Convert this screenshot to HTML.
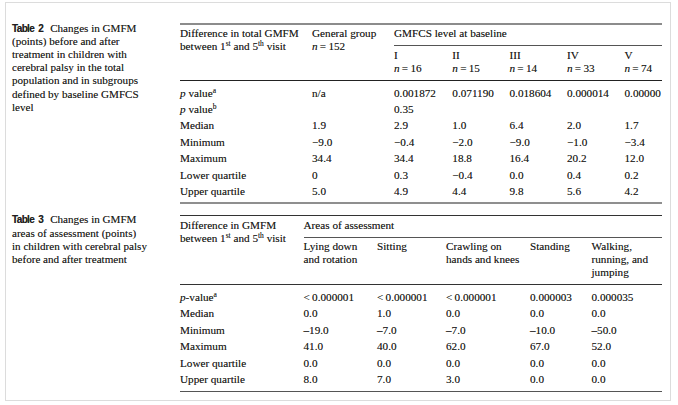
<!DOCTYPE html>
<html><head><meta charset="utf-8"><style>
html,body{margin:0;padding:0;background:#fff;}
body{width:678px;height:405px;position:relative;overflow:hidden;}
.frame{position:absolute;left:5px;top:2px;width:664px;height:397px;border:1px solid #dcdcdc;}
.s,.c{position:absolute;white-space:nowrap;font-family:"Liberation Serif",serif;font-size:11.2px;line-height:13px;color:#231f20;text-shadow:0 0 0.5px rgba(35,31,32,0.55);}
.c{font-size:11.1px;}
.tl{font-family:"Liberation Sans",sans-serif;font-weight:bold;font-size:10px;letter-spacing:-0.65px;word-spacing:2px;}
sup{font-size:7.5px;line-height:0;vertical-align:3.8px;}
.r{position:absolute;}
.clip{position:absolute;left:0;top:0;width:662px;height:405px;overflow:hidden;}
</style></head><body>
<div class="frame"></div>
<div class="clip">

<div class="r" style="left:180px;top:23px;width:482px;height:2px;background:#8c8c8c"></div>
<div class="r" style="left:394px;top:45px;width:268px;height:1px;background:#555"></div>
<div class="r" style="left:180px;top:79.5px;width:482px;height:1.6px;background:#222"></div>
<div class="r" style="left:180px;top:202px;width:482px;height:2px;background:#8f8f8f"></div>
<div class="r" style="left:180px;top:215px;width:482px;height:1px;background:#333"></div>
<div class="r" style="left:304px;top:237px;width:358px;height:1px;background:#555"></div>
<div class="r" style="left:180px;top:283.5px;width:482px;height:1.6px;background:#333"></div>
<div class="r" style="left:180px;top:390.5px;width:482px;height:1.6px;background:#555"></div>
<div class="c" style="left:12px;top:21.6px"><b class=tl>Table&nbsp;2</b><span style="display:inline-block;width:7px"></span>Changes in GMFM</div>
<div class="c" style="left:12px;top:34.8px">(points) before and after</div>
<div class="c" style="left:12px;top:48px">treatment in children with</div>
<div class="c" style="left:12px;top:61.2px">cerebral palsy in the total</div>
<div class="c" style="left:12px;top:74.4px">population and in subgroups</div>
<div class="c" style="left:12px;top:87.6px">defined by baseline GMFCS</div>
<div class="c" style="left:12px;top:100.8px">level</div>
<div class="c" style="left:12px;top:213.4px"><b class=tl>Table&nbsp;3</b><span style="display:inline-block;width:7px"></span>Changes in GMFM</div>
<div class="c" style="left:12px;top:226.6px">areas of assessment (points)</div>
<div class="c" style="left:12px;top:239.8px">in children with cerebral palsy</div>
<div class="c" style="left:12px;top:253px">before and after treatment</div>
<div class="s" style="left:180px;top:27px">Difference in total GMFM</div>
<div class="s" style="left:180px;top:40px">between 1<sup>st</sup> and 5<sup>th</sup> visit</div>
<div class="s" style="left:312px;top:27px">General group</div>
<div class="s" style="left:312px;top:40px"><i>n</i>&#8201;=&#8201;152</div>
<div class="s" style="left:394px;top:27px">GMFCS level at baseline</div>
<div class="s" style="left:394px;top:48.5px">I</div>
<div class="s" style="left:394px;top:62px"><i>n</i>&#8201;=&#8201;16</div>
<div class="s" style="left:452.3px;top:48.5px">II</div>
<div class="s" style="left:452.3px;top:62px"><i>n</i>&#8201;=&#8201;15</div>
<div class="s" style="left:509.5px;top:48.5px">III</div>
<div class="s" style="left:509.5px;top:62px"><i>n</i>&#8201;=&#8201;14</div>
<div class="s" style="left:567px;top:48.5px">IV</div>
<div class="s" style="left:567px;top:62px"><i>n</i>&#8201;=&#8201;33</div>
<div class="s" style="left:624.5px;top:48.5px">V</div>
<div class="s" style="left:624.5px;top:62px"><i>n</i>&#8201;=&#8201;74</div>
<div class="s" style="left:180px;top:86.5px"><i>p</i> value<sup>a</sup></div>
<div class="s" style="left:312px;top:86.5px">n/a</div>
<div class="s" style="left:394px;top:86.5px">0.001872</div>
<div class="s" style="left:452.3px;top:86.5px">0.071190</div>
<div class="s" style="left:509.5px;top:86.5px">0.018604</div>
<div class="s" style="left:567px;top:86.5px">0.000014</div>
<div class="s" style="left:624.5px;top:86.5px">0.00000</div>
<div class="s" style="left:180px;top:102.9px"><i>p</i> value<sup>b</sup></div>
<div class="s" style="left:394px;top:102.9px">0.35</div>
<div class="s" style="left:180px;top:119.3px">Median</div>
<div class="s" style="left:312px;top:119.3px">1.9</div>
<div class="s" style="left:394px;top:119.3px">2.9</div>
<div class="s" style="left:452.3px;top:119.3px">1.0</div>
<div class="s" style="left:509.5px;top:119.3px">6.4</div>
<div class="s" style="left:567px;top:119.3px">2.0</div>
<div class="s" style="left:624.5px;top:119.3px">1.7</div>
<div class="s" style="left:180px;top:135.7px">Minimum</div>
<div class="s" style="left:312px;top:135.7px">&minus;9.0</div>
<div class="s" style="left:394px;top:135.7px">&minus;0.4</div>
<div class="s" style="left:452.3px;top:135.7px">&minus;2.0</div>
<div class="s" style="left:509.5px;top:135.7px">&minus;9.0</div>
<div class="s" style="left:567px;top:135.7px">&minus;1.0</div>
<div class="s" style="left:624.5px;top:135.7px">&minus;3.4</div>
<div class="s" style="left:180px;top:152.1px">Maximum</div>
<div class="s" style="left:312px;top:152.1px">34.4</div>
<div class="s" style="left:394px;top:152.1px">34.4</div>
<div class="s" style="left:452.3px;top:152.1px">18.8</div>
<div class="s" style="left:509.5px;top:152.1px">16.4</div>
<div class="s" style="left:567px;top:152.1px">20.2</div>
<div class="s" style="left:624.5px;top:152.1px">12.0</div>
<div class="s" style="left:180px;top:168.5px">Lower quartile</div>
<div class="s" style="left:312px;top:168.5px">0</div>
<div class="s" style="left:394px;top:168.5px">0.3</div>
<div class="s" style="left:452.3px;top:168.5px">&minus;0.4</div>
<div class="s" style="left:509.5px;top:168.5px">0.0</div>
<div class="s" style="left:567px;top:168.5px">0.4</div>
<div class="s" style="left:624.5px;top:168.5px">0.2</div>
<div class="s" style="left:180px;top:184.9px">Upper quartile</div>
<div class="s" style="left:312px;top:184.9px">5.0</div>
<div class="s" style="left:394px;top:184.9px">4.9</div>
<div class="s" style="left:452.3px;top:184.9px">4.4</div>
<div class="s" style="left:509.5px;top:184.9px">9.8</div>
<div class="s" style="left:567px;top:184.9px">5.6</div>
<div class="s" style="left:624.5px;top:184.9px">4.2</div>
<div class="s" style="left:180px;top:218.5px">Difference in GMFM</div>
<div class="s" style="left:180px;top:231.5px">between 1<sup>st</sup> and 5<sup>th</sup> visit</div>
<div class="s" style="left:303.5px;top:218.5px">Areas of assessment</div>
<div class="s" style="left:303.5px;top:240px">Lying down</div>
<div class="s" style="left:303.5px;top:252.9px">and rotation</div>
<div class="s" style="left:377px;top:240px">Sitting</div>
<div class="s" style="left:446px;top:240px">Crawling on</div>
<div class="s" style="left:446px;top:252.9px">hands and knees</div>
<div class="s" style="left:530px;top:240px">Standing</div>
<div class="s" style="left:591.5px;top:240px">Walking,</div>
<div class="s" style="left:591.5px;top:252.9px">running, and</div>
<div class="s" style="left:591.5px;top:265.8px">jumping</div>
<div class="s" style="left:180px;top:291px"><i>p</i>-value<sup>a</sup></div>
<div class="s" style="left:303.5px;top:291px">&lt;&#8201;0.000001</div>
<div class="s" style="left:377px;top:291px">&lt;&#8201;0.000001</div>
<div class="s" style="left:446px;top:291px">&lt;&#8201;0.000001</div>
<div class="s" style="left:530px;top:291px">0.000003</div>
<div class="s" style="left:591.5px;top:291px">0.000035</div>
<div class="s" style="left:180px;top:307.4px">Median</div>
<div class="s" style="left:303.5px;top:307.4px">0.0</div>
<div class="s" style="left:377px;top:307.4px">1.0</div>
<div class="s" style="left:446px;top:307.4px">0.0</div>
<div class="s" style="left:530px;top:307.4px">0.0</div>
<div class="s" style="left:591.5px;top:307.4px">0.0</div>
<div class="s" style="left:180px;top:323.8px">Minimum</div>
<div class="s" style="left:303.5px;top:323.8px"><b>&ndash;</b>19.0</div>
<div class="s" style="left:377px;top:323.8px"><b>&ndash;</b>7.0</div>
<div class="s" style="left:446px;top:323.8px"><b>&ndash;</b>7.0</div>
<div class="s" style="left:530px;top:323.8px"><b>&ndash;</b>10.0</div>
<div class="s" style="left:591.5px;top:323.8px"><b>&ndash;</b>50.0</div>
<div class="s" style="left:180px;top:340.2px">Maximum</div>
<div class="s" style="left:303.5px;top:340.2px">41.0</div>
<div class="s" style="left:377px;top:340.2px">40.0</div>
<div class="s" style="left:446px;top:340.2px">62.0</div>
<div class="s" style="left:530px;top:340.2px">67.0</div>
<div class="s" style="left:591.5px;top:340.2px">52.0</div>
<div class="s" style="left:180px;top:356.6px">Lower quartile</div>
<div class="s" style="left:303.5px;top:356.6px">0.0</div>
<div class="s" style="left:377px;top:356.6px">0.0</div>
<div class="s" style="left:446px;top:356.6px">0.0</div>
<div class="s" style="left:530px;top:356.6px">0.0</div>
<div class="s" style="left:591.5px;top:356.6px">0.0</div>
<div class="s" style="left:180px;top:373px">Upper quartile</div>
<div class="s" style="left:303.5px;top:373px">8.0</div>
<div class="s" style="left:377px;top:373px">7.0</div>
<div class="s" style="left:446px;top:373px">3.0</div>
<div class="s" style="left:530px;top:373px">0.0</div>
<div class="s" style="left:591.5px;top:373px">0.0</div>
</div></body></html>
